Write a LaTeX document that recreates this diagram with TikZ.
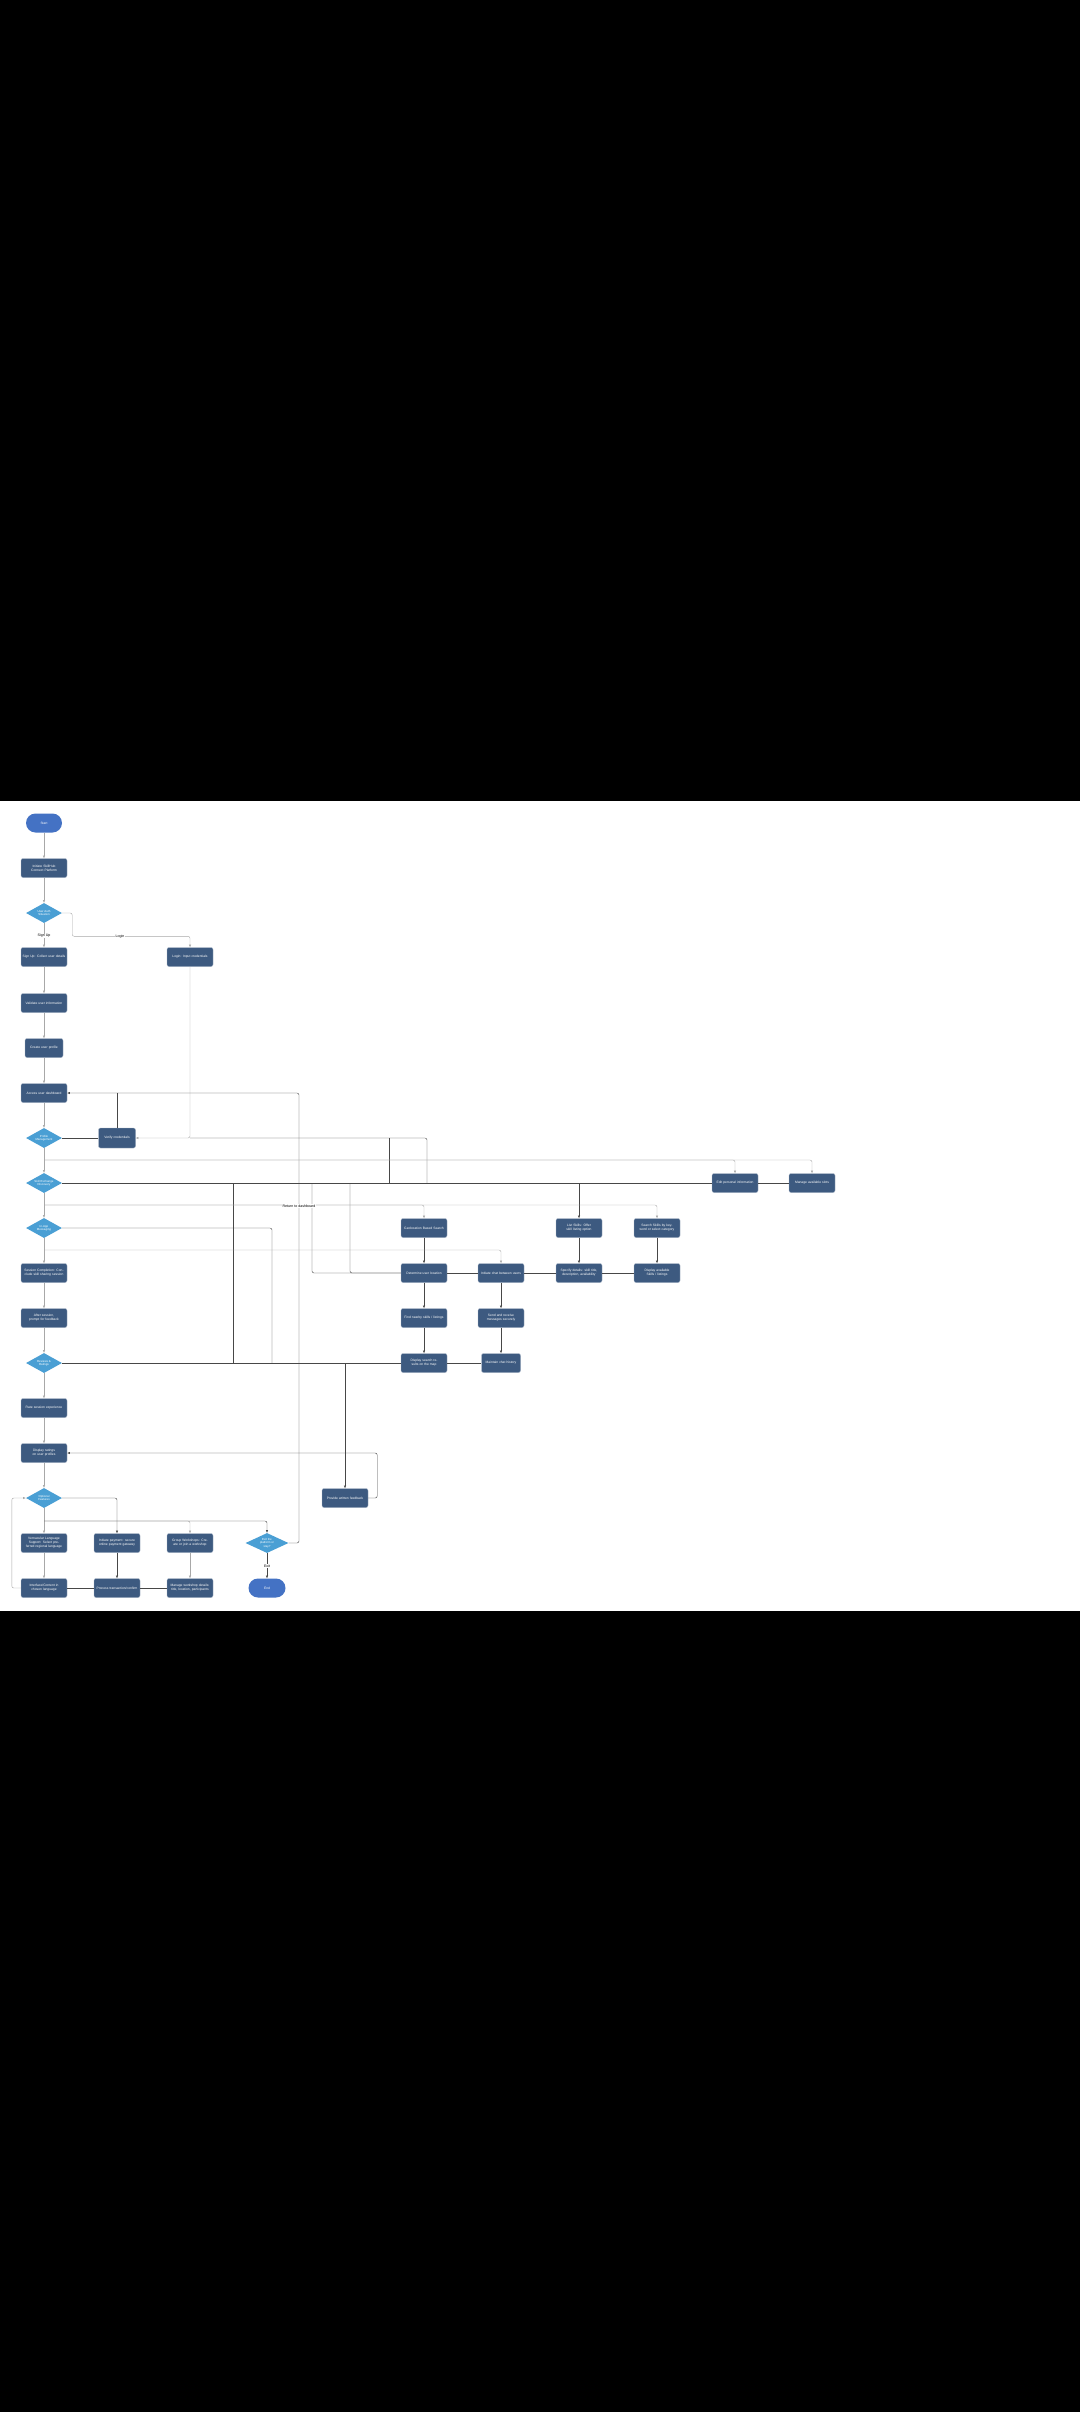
\documentclass[tikz,border=0pt]{standalone}
\usepackage{fontspec}
\setmainfont{Liberation Sans}
\usepackage{tikz}
\usetikzlibrary{shapes.geometric, arrows.meta, calc}

\definecolor{boxblue}{HTML}{3D5A80}
\definecolor{decblue}{HTML}{4A9FD4}
\definecolor{termblue}{HTML}{4472C4}
\definecolor{lndark}{HTML}{474747}
\definecolor{lngray}{HTML}{A8A8A8}

\tikzset{
    proc/.style={rectangle, rounded corners=2pt, fill=boxblue, draw=boxblue!45!white, line width=0.4pt,
        text=white, minimum width=46pt, minimum height=19pt, text width=43pt, align=center, inner sep=0.5pt,
        font=\fontsize{3.3}{3.9}\selectfont},
    dec/.style={diamond, fill=decblue, draw=none, text=white, minimum width=36pt, minimum height=20pt,
        inner sep=0pt, aspect=1.8, align=center, font=\fontsize{2.9}{3.4}\selectfont},
    term/.style={rectangle, rounded corners=9.5pt, fill=termblue, draw=none, text=white,
        minimum width=36pt, minimum height=19pt, font=\fontsize{3.3}{3.9}\selectfont},
    lbl/.style={fill=white, inner sep=0.6pt, text=black, font=\fontsize{3.6}{4}\selectfont},
    ln/.style={draw=lngray, line width=0.4pt, rounded corners=2pt},
    dk/.style={draw=lndark, line width=0.4pt, rounded corners=2pt},
    arr/.style={-{Latex[length=2.6pt,width=2.2pt]}},
}

\begin{document}
\begin{tikzpicture}[x=1pt, y=-1pt]
    \fill[black] (0,0) rectangle (1080,2412);
    \fill[white] (0,801) rectangle (1080,1611);

    % left column
    \node[term] (start) at (44,823) {Start};
    \node[proc] (init) at (44,868) {Initiate SkillHub Connect Platform};
    \node[dec] (auth) at (44,913) {User Auth\\Situation};
    \node[proc] (signup) at (44,957) {Sign Up: Collect user details};
    \node[proc] (login) at (190,957) {Login: Input credentials};
    \node[proc] (valid) at (44,1003) {Validate user information};
    \node[proc, minimum width=38pt, text width=36pt] (profile) at (44,1048) {Create user profile};
    \node[proc] (dash) at (44,1093) {Access user dashboard};
    \node[dec] (pmgmt) at (44,1138) {Profile\\Management};
    \node[proc, minimum width=37pt, text width=35pt, minimum height=20pt] (verify) at (117,1138) {Verify credentials};
    \node[dec] (skill) at (44,1183) {Skill Exchange\\Discovery};
    \node[dec] (msg) at (44,1228) {In-App\\Messaging};
    \node[proc] (sess) at (44,1273) {Session Completion: Conclude skill sharing session};
    \node[proc] (after) at (44,1318) {After session, prompt for feedback};
    \node[dec] (rev) at (44,1363) {Reviews \&\\Ratings};
    \node[proc] (rate) at (44,1408) {Rate session experience};
    \node[proc] (disp) at (44,1453) {Display ratings on user profiles};
    \node[dec] (opt) at (44,1498) {Optional\\Features};

    % bottom rows
    \node[proc] (lang) at (44,1543) {Vernacular Language Support: Select preferred regional language};
    \node[proc] (pay) at (117,1543) {Initiate payment: secure online payment gateway};
    \node[proc] (group) at (190,1543) {Group Workshops: Create or join a workshop};
    \node[dec, minimum width=43pt] (exit) at (267,1543) {Exit the\\platform or\\stay?};
    \node[proc] (iface) at (44,1588) {Interface/Content in chosen language};
    \node[proc] (trans) at (117,1588) {Process transaction/confirm};
    \node[proc] (wshop) at (190,1588) {Manage workshop details: title, location, participants};
    \node[term, minimum width=37pt] (end) at (267,1588) {End};
    \node[proc] (feedback) at (345,1498) {Provide written feedback};

    % middle columns
    \node[proc] (geo) at (424,1228) {Geolocation Based Search};
    \node[proc] (loc) at (424,1273) {Determine user location};
    \node[proc] (near) at (424,1318) {Find nearby skills / listings};
    \node[proc] (map) at (424,1363) {Display search results on the map};
    \node[proc] (chat) at (501,1273) {Initiate chat between users};
    \node[proc] (send) at (501,1318) {Send and receive messages securely};
    \node[proc, minimum width=39pt, text width=37pt] (hist) at (501,1363) {Maintain chat history};
    \node[proc] (list) at (579,1228) {List Skills: Offer skill listing option};
    \node[proc] (spec) at (579,1273) {Specify details: skill title, description, availability};
    \node[proc] (search) at (657,1228) {Search Skills by keyword or select category};
    \node[proc] (avail) at (657,1273) {Display available Skills / listings};
    \node[proc] (edit) at (735,1183) {Edit personal information};
    \node[proc] (slots) at (812,1183) {Manage available slots};

    \coordinate (rt) at (299,1093);
    \coordinate (b1) at (44,1160);
    \coordinate (b2) at (44,1205);
    \coordinate (b3) at (44,1250);
    \coordinate (b4) at (44,1521);

    % main chain
    \draw[ln, arr] (start) -- (init);
    \draw[ln, arr] (init) -- (auth);
    \draw[ln, arr] (auth) -- (signup);
    \draw[ln, arr] (auth.east) -- ++(10,0) |- ([yshift=11pt]login.north) -- (login.north);
    \draw[ln, arr] (signup) -- (valid);
    \draw[ln, arr] (valid) -- (profile);
    \draw[ln, arr] (profile) -- (dash);
    \draw[ln, arr] (dash) -- (pmgmt);
    \draw[ln, arr] (pmgmt) -- (skill);
    \draw[ln, arr] (skill) -- (msg);
    \draw[ln, arr] (msg) -- (sess);
    \draw[ln, arr] (sess) -- (after);
    \draw[ln, arr] (after) -- (rev);
    \draw[ln, arr] (rev) -- (rate);
    \draw[ln, arr] (rate) -- (disp);
    \draw[ln, arr] (disp) -- (opt);
    \draw[ln, arr] (opt) -- (lang);

    % login and dashboard returns
    \draw[ln, arr] (login.south) |- (verify.east);
    \draw[dk] (login.south |- verify.east) -- (427,1138) -- (427,1183);
    \draw[dk] (389,1138) -- (389,1183);
    \draw[dk] (verify.west) -- (pmgmt.east);
    \draw[dk] (verify.north) -- (verify.north |- dash.east);
    \draw[dk, arr] (exit.east) -| (rt) -- (dash.east);

    % profile branch
    \draw[ln, arr] (b1) -| (edit.north);
    \draw[ln, arr] (b1) -| (slots.north);
    \draw[dk] (skill.east) -- (edit.west);
    \draw[dk] (edit.east) -- (slots.west);

    % discovery branch
    \draw[dk, arr] (list.north |- skill.east) -- (list.north);
    \draw[dk] (312,1183) |- (loc.west);
    \draw[dk] (350,1183) |- (loc.west);
    \draw[dk] (233,1183) -- (233,1363);
    \draw[ln, arr] (b2) -| (geo.north);
    \draw[ln, arr] (b2) -| (search.north);
    \draw[dk, arr] (geo) -- (loc);
    \draw[dk, arr] (loc) -- (near);
    \draw[dk, arr] (near) -- (map);
    \draw[dk, arr] (list) -- (spec);
    \draw[dk, arr] (search) -- (avail);
    \draw[dk] (loc.east) -- (chat.west);
    \draw[dk] (chat.east) -- (spec.west);
    \draw[dk] (spec.east) -- (avail.west);

    % messaging branch
    \draw[dk] (msg.east) -| (272,1363);
    \draw[ln, arr] (b3) -| (chat.north);
    \draw[dk, arr] (chat) -- (send);
    \draw[dk, arr] (send) -- (hist);

    % reviews
    \draw[dk] (rev.east) -- (map.west);
    \draw[dk] (map.east) -- (hist.west);
    \draw[dk, arr] (feedback.north |- rev.east) -- (feedback.north);
    \draw[dk, arr] (feedback.east) -- ++(9,0) |- (disp.east);

    % optional features
    \draw[dk, arr] (opt.east) -| (pay.north);
    \draw[ln, arr] (b4) -| (group.north);
    \draw[dk, arr] (b4) -| (exit.north);
    \draw[ln, arr] (lang) -- (iface);
    \draw[dk, arr] (pay) -- (trans);
    \draw[ln, arr] (group) -- (wshop);
    \draw[dk] (iface) -- (trans);
    \draw[dk] (trans) -- (wshop);
    \draw[ln, arr] (iface.west) -- ++(-9,0) |- (opt.west);
    \draw[dk, arr] (exit) -- (end);

    % labels
    \node[lbl] (sulbl) at (44,936) {Sign Up};
    \node[lbl] (lglbl) at (120,937) {Login};
    \node[lbl] (rtlbl) at (299,1206) {Return to dashboard};
    \node[lbl] (exlbl) at (267,1566) {Exit};
\end{tikzpicture}
\end{document}
